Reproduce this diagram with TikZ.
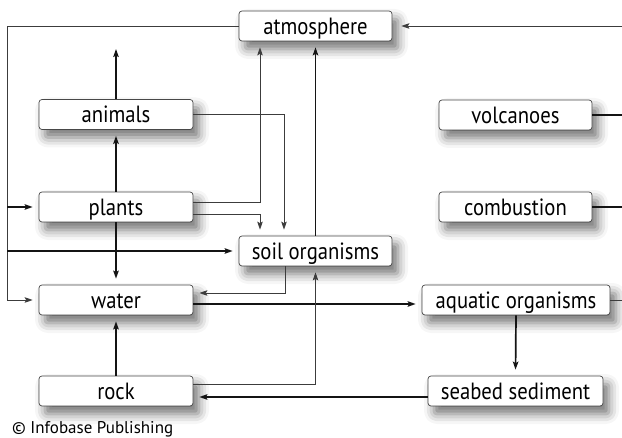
\documentclass[tikz,border=0pt]{standalone}
\usepackage{fontspec}
\setmainfont{PT Sans}
\newfontfamily\boxfont{PT Sans}[FakeStretch=0.88]
\usetikzlibrary{arrows.meta,shadows.blur}
\definecolor{boxline}{HTML}{484848}
\definecolor{thinline}{HTML}{3C3C3C}
\definecolor{thickline}{HTML}{141414}
\tikzset{
  box/.style={rectangle, rounded corners=3pt, draw=boxline, line width=0.7pt, fill=white,
    minimum height=30pt, inner sep=0pt, text height=16.5pt, text depth=0pt,
    font=\boxfont\fontsize{23.5}{23.5}\selectfont,
    blur shadow={shadow xshift=6pt, shadow yshift=-8pt, shadow blur radius=10pt, shadow opacity=55}},
  thinc/.style={draw=thinline, line width=0.8pt},
  thickc/.style={draw=thickline, line width=1.7pt},
  tip/.style={-{Stealth[length=8pt,width=5.5pt,inset=1.5pt]}, shorten >=6pt},
}
\begin{document}
\begin{tikzpicture}[x=1pt,y=-1pt]
\useasboundingbox (0,0) rectangle (622,438);
% nodes
\node[box, minimum width=153pt] (atm) at (315.5,26) {atmosphere};
\node[box, minimum width=154pt] (animals) at (116,114.5) {animals};
\node[box, minimum width=153pt] (volc) at (515.5,115) {volcanoes};
\node[box, minimum width=154pt] (plants) at (116,207) {plants};
\node[box, minimum width=153pt] (comb) at (515.5,207) {combustion};
\node[box, minimum width=153pt] (soil) at (315.5,251) {soil organisms};
\node[box, minimum width=154pt] (water) at (116,300) {water};
\node[box, minimum width=188pt] (aqua) at (516,300) {aquatic organisms};
\node[box, minimum width=154pt] (rock) at (116,391) {rock};
\node[box, minimum width=175pt] (sea) at (515.5,391) {seabed sediment};
\node[anchor=base west, inner sep=0pt, font=\fontsize{17}{17}\selectfont] (copy) at (12,434) {© Infobase Publishing};
% helper coordinates
\coordinate (lx) at (7,0);
\coordinate (rx) at (622,0);
\coordinate (va) at (260,0);
\coordinate (vb) at (284,0);
\coordinate (vc) at (285,0);
\coordinate (anup) at (116,43);
% left loop
\draw[thinc, tip] (atm.west) -| (lx |- water.west) -- (water.west);
\draw[thickc, tip] (lx |- plants.west) -- (plants.west);
\draw[thickc, tip] (lx |- soil.west) -- (soil.west);
% right edge
\draw[thinc, tip, shorten >=9pt] (rx |- atm.east) -- (atm.east);
\draw[thickc] (volc.east) -- (rx |- volc.east);
\draw[thickc] (comb.east) -- (rx |- comb.east);
\draw[thinc] (aqua.east) -- (rx |- aqua.east);
% left column
\draw[thickc, tip] (animals.north) -- (anup);
\draw[thickc, tip] (plants.north) -- (animals.south);
\draw[thickc, tip] (plants.south) -- (water.north);
\draw[thickc, tip] (rock.north) -- (water.south);
% middle
\draw[thinc, tip] (animals.east) -| (vb |- soil.north);
\draw[thinc, tip] ([yshift=5pt]plants.east) -| (va |- atm.south);
\draw[thinc, tip] ([yshift=-7pt]plants.east) -| (va |- soil.north);
\draw[thickc, tip] (soil.north) -- (atm.south);
\draw[thinc, tip] (vc |- soil.south) |- ([yshift=7pt]water.east);
\draw[thickc, tip] ([yshift=-4pt]water.east) -- ([yshift=-4pt]aqua.west);
\draw[thinc, tip] ([yshift=7pt]rock.east) -| (soil.south);
\draw[thickc, tip] ([yshift=-6pt]sea.west) -- ([yshift=-6pt]rock.east);
\draw[thickc, tip] (aqua.south) -- (sea.north);
\end{tikzpicture}
\end{document}
